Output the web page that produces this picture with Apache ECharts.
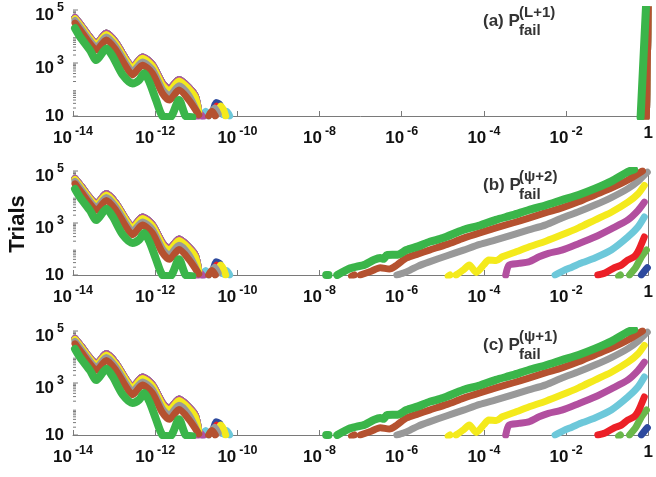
<!DOCTYPE html>
<html>
<head>
<meta charset="utf-8">
<script src="https://cdn.jsdelivr.net/npm/echarts@6/dist/echarts.min.js"></script>
<style>
  html, body { margin: 0; padding: 0; background: #fff; }
  #app { width: 656px; height: 477px; }
</style>
</head>
<body>
<div id="app"></div>
<script>
const FONT = 'Liberation Sans, Arial, sans-serif';

// tick exponents
const xTickExp = [-14, -12, -10, -8, -6, -4, -2, 0];
const yTickExp = [1, 3, 5];

// left part, shared by the three panels  [P_fail, trials]
const greenLeft = [[1.12e-14,20400],[1.48e-14,9800],[2.57e-14,3100],[3.7e-14,1290],[6.5e-14,3550],[9.3e-14,1740],[1.62e-13,355],[2.8e-13,170],[4.1e-13,230],[5.4e-13,410],[7.2e-13,195],[1.05e-12,40],[1.5e-12,10],[2.3e-12,9],[3.8e-12,40],[5.5e-12,10],[8e-12,9]];
const brownLeft = [[1.12e-14,32000],[1.6e-14,15000],[2.57e-14,5500],[3.7e-14,3100],[6.5e-14,7400],[1.1e-13,3100],[1.95e-13,720],[2.8e-13,355],[4.9e-13,830],[8.5e-13,410],[1.5e-12,72],[2.2e-12,40],[3.8e-12,95],[6.6e-12,40],[1.15e-11,11]];
const grayLeft = [[1.12e-14,40000],[1.6e-14,19000],[2.57e-14,7000],[3.7e-14,4000],[6.5e-14,9500],[1.1e-13,4100],[1.95e-13,950],[2.8e-13,480],[4.9e-13,1100],[8.5e-13,560],[1.5e-12,100],[2.2e-12,58],[3.8e-12,140],[6.6e-12,60],[1.1e-11,12]];
const yellowLeft = [[1.12e-14,47000],[1.6e-14,23000],[2.57e-14,8500],[3.7e-14,5000],[6.5e-14,12000],[1.1e-13,5300],[1.95e-13,1250],[2.8e-13,640],[4.9e-13,1500],[8.5e-13,780],[1.5e-12,150],[2.2e-12,90],[3.8e-12,210],[6.6e-12,105],[9.5e-12,50],[1.15e-11,14]];
const topLeft = [[1.12e-14,52000],[1.6e-14,26000],[2.57e-14,9500],[3.7e-14,5600],[6.5e-14,13500],[1.1e-13,6000],[1.95e-13,1400],[2.8e-13,720],[4.9e-13,1700],[8.5e-13,880],[1.5e-12,175],[2.2e-12,105],[3.8e-12,240],[6.6e-12,120],[9.5e-12,58],[1.15e-11,15]];

const magentaBlob = [[1.05e-11,9],[1.25e-11,12],[1.45e-11,9]];
const lightblueBlob1 = [[1.4e-11,10],[1.7e-11,15],[2e-11,10]];
const lightblueBlob2 = [[4.6e-11,11],[5.5e-11,15],[6.5e-11,10]];
const blueBlob = [[2.5e-11,12],[3e-11,32],[3.7e-11,28],[4.3e-11,12]];
const redBlob = [[2.6e-11,12],[3.1e-11,24],[3.8e-11,14]];
const yellowBlob = [[3.3e-11,13],[3.9e-11,24],[4.6e-11,17],[5.2e-11,10]];
const grayBlob = [[2.2e-11,12],[2.8e-11,20],[3.4e-11,12]];
const brownBlob = [[2e-11,10],[2.4e-11,15],[2.9e-11,10]];

// right part, panels (b) and (c)
const greenDot = [[1.45e-8,10],[1.65e-8,10]];
const greenRight = [[2.7e-8,10],[5.6e-8,18],[1.26e-7,25],[2.1e-7,38],[3e-7,45],[3.6e-7,42],[4.4e-7,59],[8e-7,60],[1.3e-6,91],[2.5e-6,126],[4.8e-6,190],[1e-5,263],[3.1e-5,540],[7.9e-5,800],[1.95e-4,1320],[5e-4,2000],[1.23e-3,3160],[3.2e-3,4800],[7.9e-3,7600],[0.02,12000],[0.05,21000],[0.126,40000],[0.32,93000],[0.45,115000]];
const brownDots = [[6e-8,9],[7e-8,10]];
const brownRight = [[9.8e-8,10],[1.8e-7,14],[3e-7,19],[5e-7,17],[7.6e-7,24],[1.3e-6,45],[2.5e-6,65],[4.7e-6,91],[1.26e-5,150],[3.2e-5,263],[7.9e-5,420],[1.95e-4,650],[5e-4,1000],[1.23e-3,1550],[3.2e-3,2500],[7.9e-3,3800],[0.02,6500],[0.05,12000],[0.126,22000],[0.32,45000],[0.72,100000]];
const grayRight = [[7.6e-7,10],[1.1e-6,12],[1.6e-6,15.5],[2.5e-6,22],[4.7e-6,32],[1.26e-5,55],[3.2e-5,91],[7.9e-5,150],[1.95e-4,224],[5e-4,350],[1.23e-3,540],[3.2e-3,850],[7.9e-3,1550],[0.02,2700],[0.05,4900],[0.126,9500],[0.32,21000],[0.56,40000],[0.8,71000],[0.95,90000]];
const yellowDot = [[1.35e-5,9],[1.5e-5,10]];
const yellowRight = [[2.1e-5,10],[3.2e-5,16],[4.4e-5,24],[6.5e-5,12.6],[1e-4,25],[1.3e-4,38],[2e-4,36],[2.8e-4,50],[6.3e-4,80],[1.23e-3,120],[3.2e-3,200],[7.9e-3,350],[0.02,650],[0.05,1300],[0.126,2600],[0.32,6300],[0.56,13000],[0.8,28000]];
const magentaRight = [[3.4e-4,10],[4.1e-4,24],[7e-4,28],[1.23e-3,32],[2.2e-3,50],[3.7e-3,68],[7.9e-3,91],[0.02,160],[0.05,290],[0.126,600],[0.32,1320],[0.56,3000],[0.8,6300]];
const lightblueRight = [[5.4e-3,10],[8.9e-3,15],[0.0138,20],[0.025,30],[0.05,45],[0.126,91],[0.32,290],[0.56,700],[0.8,1700]];
const redRight = [[0.059,10],[0.089,12],[0.15,19],[0.22,24],[0.32,38],[0.45,50],[0.55,75],[0.65,130],[0.8,290]];
const lightgreenDot = [[0.19,9],[0.21,10]];
const lightgreenRight = [[0.35,10],[0.5,20],[0.68,50],[0.9,91]];
const blueRight = [[0.68,10],[0.83,15],[0.95,19]];

// right part, panel (a)
const greenRightA = [[0.65,9],[0.88,130000]];
const otherRightA = [[0.9,9],[1.0,130000]];

const titles = [
  { main: '(a) P', sup: '(L+1)', sub: 'fail' },
  { main: '(b) P', sup: '(\u03c8+2)', sub: 'fail' },
  { main: '(c) P', sup: '(\u03c8+1)', sub: 'fail' },
];

const defs = [
  { color: '#2e4a9e', left: [topLeft, blueBlob], right: [blueRight], rightA: [otherRightA] },
  { color: '#6ab84a', left: [topLeft], right: [lightgreenDot, lightgreenRight], rightA: [otherRightA] },
  { color: '#ec2027', left: [topLeft, redBlob], right: [redRight], rightA: [otherRightA] },
  { color: '#6dc8da', left: [topLeft, lightblueBlob1, lightblueBlob2], right: [lightblueRight], rightA: [otherRightA] },
  { color: '#b24f9f', left: [topLeft, magentaBlob], right: [magentaRight], rightA: [otherRightA] },
  { color: '#f4ea1c', left: [yellowLeft, yellowBlob], right: [yellowDot, yellowRight], rightA: [otherRightA] },
  { color: '#999999', left: [grayLeft, grayBlob], right: [grayRight], rightA: [otherRightA] },
  { color: '#b5512f', left: [brownLeft, brownBlob], right: [brownDots, brownRight], rightA: [otherRightA] },
  { color: '#3ab54a', left: [greenLeft], right: [greenDot, greenRight], rightA: [greenRightA], width: 8 },
];

const grids = [
  { left: 73, top: 10, width: 582, height: 106 },
  { left: 73, top: 171, width: 582, height: 104 },
  { left: 73, top: 331, width: 582, height: 104 },
];

const lg = arr => arr.map(p => [Math.log10(p[0]), Math.log10(p[1])]);

// y ticks: [exponent, tick length], majors and log minors
const yTicks = yTickExp.map(v => [v, 5]);
for (let n = 1; n < 5; n++) {
  for (let k = 2; k < 10; k++) yTicks.push([Math.log10(k * Math.pow(10, n)), 3]);
}

const rich = {
  p: { fontFamily: FONT, fontWeight: 'bold', fontSize: 17, color: '#111', lineHeight: 17 },
  b: { fontFamily: FONT, fontWeight: 'bold', fontSize: 17, color: '#111', lineHeight: 17, padding: [5, 0, 0, 0], verticalAlign: 'top' },
  s: { fontFamily: FONT, fontWeight: 'bold', fontSize: 12.5, color: '#111', lineHeight: 13, padding: [0, 0, 0, 3], verticalAlign: 'top' },
};

const xAxis = grids.map((_, i) => ({
  gridIndex: i, type: 'value', min: -14, max: 0, interval: 2,
  axisLine: { lineStyle: { color: '#7a7a7a', width: 1 } },
  axisTick: { inside: true, length: 5, lineStyle: { color: '#7a7a7a' } },
  splitLine: { show: false },
  axisLabel: {
    margin: 9, rich,
    formatter: v => v === 0 ? '{p|1}' : '{b|10}{s|' + v + '}',
  },
}));

const yAxis = grids.map((_, i) => ({
  gridIndex: i, type: 'value', min: 1, max: 5, interval: 2,
  axisLine: { show: true, lineStyle: { color: '#7a7a7a', width: 1 } },
  axisTick: { show: false },
  splitLine: { show: false },
  axisLabel: {
    margin: 9, rich,
    formatter: v => v === 1 ? '{p|10}' : '{b|10}{s|' + v + '}',
  },
}));

const series = [];
grids.forEach((_, p) => {
  defs.forEach(d => {
    const segs = d.left.concat(p === 0 ? d.rightA : d.right);
    segs.forEach(seg => {
      series.push({
        type: 'line', xAxisIndex: p, yAxisIndex: p,
        data: lg(seg), showSymbol: false, smooth: 0.25, silent: true,
        lineStyle: { color: d.color, width: d.width || 7, cap: 'round', join: 'round' },
      });
    });
  });
  // y-axis ticks (log minor ticks) drawn on the axis scale
  series.push({
    type: 'custom', xAxisIndex: p, yAxisIndex: p, silent: true, clip: false, z: 1,
    data: yTicks,
    renderItem: (params, api) => {
      const pt = api.coord([-14, api.value(0)]);
      return {
        type: 'line',
        shape: { x1: pt[0], y1: pt[1], x2: pt[0] + api.value(1), y2: pt[1] },
        style: { stroke: '#7a7a7a', lineWidth: 1 },
      };
    },
  });
});

const graphic = [
  {
    type: 'text', x: 18, y: 224, rotation: Math.PI / 2,
    style: { text: 'Trials', font: 'bold 22px ' + FONT, fill: '#111', align: 'center', verticalAlign: 'middle' },
  },
];
const titleY = [21, 185, 345];
titles.forEach((t, i) => {
  const y = titleY[i];
  graphic.push({ type: 'text', x: 483, y: y, style: { text: t.main, font: 'bold 17px ' + FONT, fill: '#333', verticalAlign: 'middle' } });
  graphic.push({ type: 'text', x: 519, y: y - 8, style: { text: t.sup, font: 'bold 15px ' + FONT, fill: '#333', verticalAlign: 'middle' } });
  graphic.push({ type: 'text', x: 519, y: y + 10, style: { text: t.sub, font: 'bold 15px ' + FONT, fill: '#333', verticalAlign: 'middle' } });
});

const myChart = echarts.init(document.getElementById('app'));
myChart.setOption({
  animation: false,
  grid: grids,
  xAxis, yAxis, series, graphic,
});
</script>
</body>
</html>
